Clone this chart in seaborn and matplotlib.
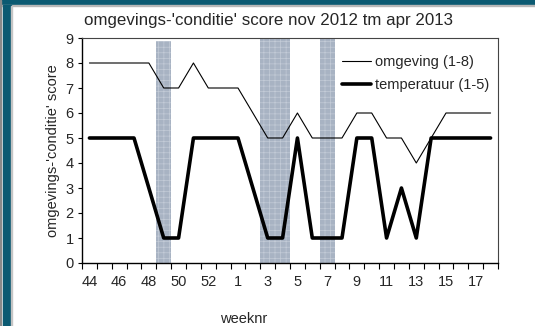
import matplotlib
matplotlib.use("Agg")
import matplotlib.pyplot as plt
from matplotlib.patches import Rectangle
from matplotlib.lines import Line2D
import seaborn as sns
import numpy as np

# week numbers (nov 2012 - apr 2013)
weeks = [44, 45, 46, 47, 48, 49, 50, 51, 52, 53,
         1, 2, 3, 4, 5, 6, 7, 8, 9, 10, 11, 12, 13, 14, 15, 16, 17, 18]
# environment score (1-8)
omgeving = [8, 8, 8, 8, 8, 7, 7, 8, 7, 7,
            7, 6, 5, 5, 6, 5, 5, 5, 6, 6, 5, 5, 4, 5, 6, 6, 6, 6]
# temperature score (1-5)
temperatuur = [5, 5, 5, 5, 3, 1, 1, 5, 5, 5,
               5, 3, 1, 1, 5, 1, 1, 1, 5, 5, 1, 3, 1, 5, 5, 5, 5, 5]
# highlighted weeks (shaded columns)
markering = [0, 0, 0, 0, 0, 8.9, 0, 0, 0, 0,
             0, 0, 9, 9, 0, 0, 9, 0, 0, 0, 0, 0, 0, 0, 0, 0, 0, 0]

sns.set_style("white")
plt.rcParams["font.family"] = ["Liberation Sans", "DejaVu Sans"]
plt.rcParams["hatch.linewidth"] = 0.5

fig = plt.figure(figsize=(5.35, 3.26), dpi=100)
ax = fig.add_axes([82 / 535, 1 - 263 / 326, 416 / 535, 225 / 326])

pos = np.arange(len(weeks))

sns.barplot(x=pos, y=markering, width=1.0, color="#a8b3c3", saturation=1,
            hatch="+++", edgecolor="#c3cbd7", linewidth=0, ax=ax)
sns.lineplot(x=pos, y=omgeving, color="black", linewidth=0.8, ax=ax)
sns.lineplot(x=pos, y=temperatuur, color="black", linewidth=2.6, ax=ax)

ax.set_xlim(-0.5, len(weeks) - 0.5)
ax.set_ylim(0, 9)
ax.set_yticks(range(0, 10))
ax.set_yticklabels([str(v) for v in range(0, 10)], fontsize=10.5)

# tick marks on category boundaries, labels on every other week
ax.set_xticks(np.arange(-0.5, len(weeks), 1.0))
ax.set_xticklabels([])
ax.set_xticks(pos[::2], minor=True)
ax.set_xticklabels([str(w) for w in weeks[::2]], minor=True, fontsize=10.5)
ax.tick_params(axis="x", which="major", direction="out", length=4, width=0.8,
               color="black", bottom=True)
ax.tick_params(axis="x", which="minor", length=0, pad=9)
ax.tick_params(axis="y", direction="out", length=3, width=0.8, color="black",
               left=True, pad=3)

for side in ["left", "bottom"]:
    ax.spines[side].set_color("black")
    ax.spines[side].set_linewidth(1.0)
for side in ["top", "right"]:
    ax.spines[side].set_color("#444444")
    ax.spines[side].set_linewidth(0.8)

ax.set_xlabel("")
ax.set_ylabel("omgevings-'conditie' score", fontsize=10.5, labelpad=4)
fig.text(269 / 535, 1 - 20 / 326,
         "omgevings-'conditie' score nov 2012 tm apr 2013",
         fontsize=12.2, ha="center", va="center")
fig.text(244 / 535, 1 - 319 / 326, "weeknr", fontsize=10.5,
         ha="center", va="center")

handles = [Line2D([], [], color="black", linewidth=0.8),
           Line2D([], [], color="black", linewidth=2.6)]
ax.legend(handles, ["omgeving (1-8)", "temperatuur (1-5)"],
          loc="upper left", bbox_to_anchor=(0.6, 0.97), frameon=False,
          fontsize=10.5, handlelength=2.0, handletextpad=0.3,
          labelspacing=0.65, borderaxespad=0.3)

# window frame around the chart
frame = "#0b5a72"
fig.patches.append(Rectangle((0, 1 - 5 / 326), 1, 5 / 326,
                             transform=fig.transFigure, color=frame, zorder=5))
fig.patches.append(Rectangle((0, 1 - 6 / 326), 1, 1 / 326,
                             transform=fig.transFigure, color="#b8b8b8", zorder=5))
fig.patches.append(Rectangle((0, 0), 1 / 535, 1,
                             transform=fig.transFigure, color="#8a8a8a", zorder=5))
fig.patches.append(Rectangle((2.5 / 535, 0), 8.5 / 535, 1 - 5 / 326,
                             transform=fig.transFigure, color=frame, zorder=5))
fig.patches.append(Rectangle((11 / 535, 0), 1 / 535, 1 - 6 / 326,
                             transform=fig.transFigure, color="#c4c4c4", zorder=5))

fig.savefig("out.png", dpi=100)
